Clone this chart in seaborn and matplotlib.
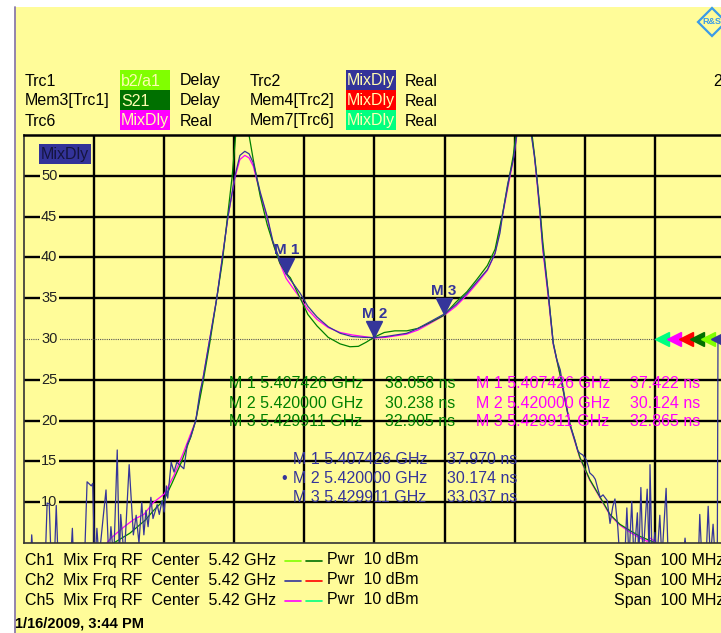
import matplotlib
matplotlib.use("Agg")
import pandas as pd
import matplotlib.pyplot as plt
import seaborn as sns
from matplotlib.patches import Rectangle
from matplotlib.lines import Line2D
from matplotlib.transforms import offset_copy, blended_transform_factory

# ==========================
# Trace data (frequency in MHz, delay in ns)
# ==========================

navy_freq = [5370.0, 5370.9, 5371.1, 5371.4, 5373.0, 5373.3, 5373.6, 5373.9, 5374.3, 5374.6,
             5374.9, 5376.6, 5376.9, 5377.1, 5378.6, 5379.0, 5379.6, 5379.8, 5380.1, 5380.4,
             5380.7, 5381.3, 5381.7, 5382.1, 5382.4, 5382.8, 5383.3, 5383.6, 5383.8, 5384.3,
             5385.0, 5385.6, 5386.0, 5386.4, 5386.8, 5387.1, 5387.4, 5387.7, 5388.1, 5388.4,
             5389.0, 5389.3, 5389.7, 5390.0, 5390.3, 5390.5, 5391.0, 5391.4, 5391.8, 5392.3,
             5392.8, 5393.3, 5393.8, 5394.5, 5395.1, 5395.5, 5396.1, 5396.5, 5397.1, 5397.5,
             5398.3, 5399.1, 5400.1, 5400.8, 5401.5, 5402.1, 5402.7, 5403.7, 5404.7, 5405.5,
             5406.5, 5407.4, 5408.4, 5409.4, 5410.5, 5411.8, 5413.4, 5415.1, 5416.8, 5418.5,
             5420.0, 5421.6, 5423.1, 5424.6, 5426.2, 5427.9, 5429.9, 5431.6, 5433.2, 5434.6,
             5436.1, 5437.2, 5437.9, 5438.3, 5439.0, 5439.8, 5440.3, 5440.8, 5441.5, 5442.2,
             5442.8, 5443.2, 5443.6, 5444.0, 5444.8, 5445.5, 5446.0, 5446.5, 5447.2, 5447.9,
             5448.6, 5449.0, 5449.3, 5449.7, 5450.2, 5450.5, 5450.7, 5451.2, 5451.5, 5451.9,
             5452.2, 5452.6, 5453.2, 5453.6, 5454.0, 5454.3, 5454.7, 5455.0, 5455.7, 5456.0,
             5456.3, 5456.7, 5457.0, 5457.5, 5457.7, 5458.0, 5458.3, 5458.9, 5459.2, 5459.3,
             5459.6, 5460.0, 5460.3, 5460.7, 5461.0, 5461.6, 5461.9, 5464.0, 5464.3, 5464.6,
             5466.2, 5466.4, 5466.7, 5467.3, 5467.6, 5467.9, 5468.3, 5468.6, 5468.9, 5469.0,
             5470.0]
navy_vals = [2, 2, 6.0, 2, 2, 9.9, 9.8, 2, 2, 9.6,
             2, 2, 6.8, 2, 2, 12.5, 12.0, 12.3, 2, 6.8,
             3, 8.2, 11.5, 3, 7.0, 3, 16.4, 3, 8.5, 3,
             14.6, 6, 8.4, 5, 10.0, 6, 9.0, 7, 10.6, 8,
             9.7, 8.5, 10.2, 8.8, 12.0, 10.5, 14.9, 13.7, 14.9, 14.5,
             14.1, 17.1, 18.0, 20.0, 23.5, 25.0, 28.0, 30.0, 33.0, 35.0,
             40.0, 45.0, 50.0, 52.5, 53.0, 52.7, 51.6, 48.0, 45.0, 42.0,
             39.7, 37.97, 36.8, 35.6, 34.0, 32.7, 31.5, 30.7, 30.3, 30.2,
             30.17, 30.3, 30.5, 30.7, 31.3, 32.1, 33.04, 34.2, 35.6, 37.0,
             38.5, 40.5, 43.0, 45.4, 49.0, 52.0, 55.0, 57.0, 58.0, 56.0,
             52.5, 49.5, 45.5, 41.3, 35.5, 29.5, 27.5, 26.2, 22.5, 19.5,
             17.6, 16.3, 16.0, 15.8, 15.2, 14.4, 13.6, 13.2, 12.8, 11.5,
             10.6, 10.9, 10.2, 7.4, 9.5, 10.4, 7.0, 3, 3, 9.3,
             3, 10.1, 3, 8.7, 3, 11.8, 3, 11.6, 3, 14.6,
             3, 6.3, 3, 8.4, 3, 11.7, 3, 3, 5.6, 3,
             3, 8.5, 3, 3, 9.5, 3, 7.3, 3, 3, 30,
             30]

green_freq = [5370.0, 5378.0, 5382.8, 5385.1, 5387.3, 5388.5, 5390.0, 5391.1, 5392.4, 5393.7,
              5394.5, 5395.5, 5396.5, 5397.5, 5398.3, 5399.1, 5399.7, 5400.2, 5400.8, 5401.5,
              5402.1, 5402.7, 5403.7, 5404.7, 5405.8, 5406.5, 5407.4, 5408.0, 5409.4, 5410.5,
              5411.8, 5413.4, 5415.1, 5416.5, 5417.7, 5418.8, 5420.0, 5421.4, 5422.9, 5424.6,
              5426.2, 5427.9, 5429.9, 5431.6, 5433.2, 5434.6, 5436.1, 5437.2, 5438.3, 5439.8,
              5440.3, 5441.5, 5442.2, 5442.9, 5443.6, 5444.0, 5444.8, 5445.5, 5446.5, 5447.9,
              5449.3, 5450.7, 5452.2, 5453.6, 5455.0, 5456.5, 5457.9, 5459.3, 5460.0, 5461.4,
              5470.0]
green_vals = [2, 3.5, 5.0, 6.2, 7.8, 9.0, 10.3, 12.3, 14.8, 17.8,
              20.0, 24.5, 29.5, 35.0, 39.5, 45.5, 50.0, 55.0, 58.0, 59.0,
              55.0, 52.0, 47.5, 44.0, 41.0, 39.3, 38.06, 37.5, 35.0, 33.0,
              31.6, 30.2, 29.4, 29.05, 29.1, 29.6, 30.24, 30.8, 31.0, 31.0,
              31.3, 32.0, 32.9, 34.5, 35.8, 37.3, 39.0, 41.0, 45.5, 52.5,
              56.0, 59.0, 57.0, 52.0, 46.0, 42.0, 35.5, 29.5, 25.5, 19.5,
              15.5, 12.8, 10.6, 8.5, 7.3, 6.5, 5.8, 5.3, 5.0, 4.5,
              3.0]

magenta_freq = [5370.0, 5379.9, 5382.4, 5384.3, 5385.7, 5387.1, 5388.5, 5390.0, 5391.4, 5392.8,
                5394.5, 5395.5, 5396.5, 5397.5, 5398.3, 5399.1, 5400.1, 5400.8, 5401.5, 5402.1,
                5402.7, 5403.7, 5404.7, 5405.5, 5406.5, 5407.4, 5408.4, 5409.4, 5410.5, 5411.8,
                5413.4, 5415.1, 5416.8, 5418.5, 5420.0, 5421.6, 5423.1, 5424.6, 5426.2, 5427.9,
                5429.9, 5431.6, 5433.2, 5434.6, 5436.1, 5437.2, 5438.3, 5439.8, 5440.3, 5441.5,
                5442.2, 5442.8, 5443.6, 5444.0, 5444.8, 5445.5, 5446.5, 5447.9, 5449.3, 5450.7,
                5452.2, 5453.6, 5455.0, 5456.5, 5457.9, 5458.9, 5459.3, 5460.0, 5461.0, 5470.0]
magenta_vals = [2, 3, 5.6, 7.0, 7.9, 8.5, 10.0, 11.0, 13.3, 16.2,
                20.0, 25.0, 30.0, 35.0, 40.0, 45.0, 49.8, 52.0, 52.5, 52.2,
                51.2, 47.8, 44.8, 41.8, 39.3, 37.42, 36.2, 35.0, 33.6, 32.4,
                31.4, 30.8, 30.5, 30.3, 30.12, 30.2, 30.4, 30.6, 31.1, 31.9,
                32.87, 34.0, 35.4, 36.8, 38.4, 40.5, 45.3, 52.0, 55.0, 58.0,
                56.5, 52.5, 45.5, 41.0, 35.0, 29.3, 25.5, 19.3, 15.4, 12.7,
                10.5, 8.4, 7.2, 6.3, 5.6, 5.2, 5.6, 5.2, 4.0, 3.0]

# Markers
marker_names = ["M 1", "M 2", "M 3"]
marker_freq_mhz = [5407.426, 5420.000, 5429.911]
marker_freq_txt = ["5.407426 GHz", "5.420000 GHz", "5.429911 GHz"]
green_marker_vals = [38.058, 30.238, 32.905]
magenta_marker_vals = [37.422, 30.124, 32.865]
navy_marker_vals = [37.970, 30.174, 33.037]

y_tick_labels = [10, 15, 20, 25, 30, 35, 40, 45, 50]
ref_level = 30

# ==========================
# Style
# ==========================

BG = "#fffc99"
NAVY = "#35359a"
GREEN = "#008000"
MAGENTA = "#ff00ff"

sns.set_theme(style="white")
plt.rcParams["font.family"] = ["Liberation Sans", "DejaVu Sans"]

W, H = 721, 633
fig = plt.figure(figsize=(W / 100, H / 100), dpi=100)
fig.patch.set_facecolor("white")


def fx(x):
    return x / W


def fy(y):
    return 1 - y / H


def ftext(x, y, s, **kw):
    kw.setdefault("fontsize", 11.5)
    kw.setdefault("va", "center")
    fig.text(fx(x), fy(y), s, **kw)


def fbox(x0, y0, w, h, color):
    fig.patches.append(Rectangle((fx(x0), fy(y0 + h)), w / W, h / H,
                                 transform=fig.transFigure, facecolor=color,
                                 edgecolor="none", zorder=1))


# background panel with purple left border
fig.patches.append(Rectangle((fx(15), 0), 1, fy(7), transform=fig.transFigure,
                             facecolor=BG, edgecolor="none", zorder=-10))
fig.add_artist(Line2D([fx(14.5), fx(14.5)], [0, fy(7)], transform=fig.transFigure,
                      color="#8a7aaa", lw=1.3))

# ==========================
# Plot area
# ==========================

ax = fig.add_axes([fx(24), fy(543), 701 / W, 408 / H])
ax.set_facecolor(BG)

df = pd.concat([
    pd.DataFrame({"freq": magenta_freq, "value": magenta_vals, "trace": "Trc6"}),
    pd.DataFrame({"freq": green_freq, "value": green_vals, "trace": "Mem3"}),
    pd.DataFrame({"freq": navy_freq, "value": navy_vals, "trace": "Trc2"}),
])
sns.lineplot(data=df, x="freq", y="value", hue="trace",
             hue_order=["Trc6", "Mem3", "Trc2"],
             palette={"Trc6": MAGENTA, "Mem3": GREEN, "Trc2": NAVY},
             estimator=None, sort=False, lw=0.9, legend=False, ax=ax)

ax.set_xlim(5370, 5470)
ax.set_ylim(5, 55)
ax.set_xticks([])
ax.set_yticks([])
ax.set_xlabel("")
ax.set_ylabel("")

for f in range(5380, 5470, 10):
    ax.axvline(f, color="black", lw=1.7, zorder=1)
for v in y_tick_labels:
    if v == ref_level:
        ax.axhline(v, color="#555555", lw=0.8, ls=(0, (1, 1)), zorder=1)
    else:
        ax.axhline(v, color="black", lw=1.7, zorder=1)

for side in ["left", "bottom"]:
    ax.spines[side].set_color("#333333")
    ax.spines[side].set_linewidth(1.2)
ax.spines["top"].set_color("black")
ax.spines["top"].set_linewidth(1.8)
ax.spines["right"].set_visible(False)

ymix = blended_transform_factory(ax.transAxes, ax.transData)
for v in y_tick_labels:
    ax.text(0.036, v, str(v), transform=ymix, ha="center", va="center",
            fontsize=10.5, color="#222222", zorder=1.5,
            bbox=dict(facecolor=BG, edgecolor="none", pad=1.0))

# reference level arrows
ref_x = [0.910, 0.927, 0.944, 0.960, 0.976, 0.990]
ref_colors = ["#00ff80", MAGENTA, "#ff0000", "#007000", "#80ff00", NAVY]
for rx, rc in zip(ref_x, ref_colors):
    ax.plot(rx, ref_level, marker="<", ms=10, color=rc, transform=ymix,
            clip_on=False, zorder=6)

# marker triangles (tip on the trace)
tri = offset_copy(ax.transData, fig=fig, y=6, units="points")
ax.plot(marker_freq_mhz, navy_marker_vals, "v", ms=12, color=NAVY,
        transform=tri, zorder=6, ls="none")
for name, f, v in zip(marker_names, marker_freq_mhz, navy_marker_vals):
    ax.annotate(name, (f, v), xytext=(0, 17), textcoords="offset points",
                ha="center", va="center", fontsize=11, fontweight="bold",
                color=NAVY, zorder=6)

# marker readouts
for i in range(3):
    ftext(229, 384 + 19 * i, f"{marker_names[i]} {marker_freq_txt[i]}", color=GREEN)
    ftext(385, 384 + 19 * i, f"{green_marker_vals[i]:.3f} ns", color=GREEN)
    ftext(476, 384 + 19 * i, f"{marker_names[i]} {marker_freq_txt[i]}", color=MAGENTA)
    ftext(630, 384 + 19 * i, f"{magenta_marker_vals[i]:.3f} ns", color=MAGENTA)
    ftext(293, 460 + 18.5 * i, f"{marker_names[i]} {marker_freq_txt[i]}", color=NAVY)
    ftext(447, 460 + 18.5 * i, f"{navy_marker_vals[i]:.3f} ns", color=NAVY)
ftext(281, 478.5, "\u2022", color=NAVY)

# MixDly label inside plot
ftext(41, 154, "MixDly", color="#151540", fontsize=11.5,
      bbox=dict(facecolor="#333399", edgecolor="none", pad=1.5))

# ==========================
# Header
# ==========================

rows = [81, 101, 121]
left_names = ["Trc1", "Mem3[Trc1]", "Trc6"]
left_tags = ["b2/a1", "S21", "MixDly"]
left_tag_colors = ["#80ff00", "#007000", "#ff00ff"]
left_formats = ["Delay", "Delay", "Real"]
right_names = ["Trc2", "Mem4[Trc2]", "Mem7[Trc6]"]
right_tag_colors = ["#333399", "#ff0000", "#00ff80"]

for i, y in enumerate(rows):
    ftext(25, y, left_names[i], color="black")
    fbox(120, y - 11, 50, 20, left_tag_colors[i])
    ftext(121, y, left_tags[i], color="#fffcb0", zorder=2)
    ftext(180, y, left_formats[i], color="black")
    ftext(250, y, right_names[i], color="black")
    fbox(346, y - 11, 50, 20, right_tag_colors[i])
    ftext(347, y, "MixDly", color="#fffcb0", zorder=2)
    ftext(405, y, "Real", color="black")
ftext(713, 81, "2", color="black")

# R&S logo
fig.add_artist(Line2D([fx(712)], [fy(22)], transform=fig.transFigure, marker="D",
                      ms=14, mfc="none", mec="#3b9be8", mew=1.6))
ftext(712, 21, "R&S", color="#3b9be8", fontsize=6.5, fontweight="bold", ha="center")

# ==========================
# Footer
# ==========================

foot_rows = [560, 580, 600]
ch_names = ["Ch1", "Ch2", "Ch5"]
dash_colors = [("#80ff00", "#007000"), ("#333399", "#ff0000"), ("#ff00ff", "#00ff80")]
for i, y in enumerate(foot_rows):
    ftext(25, y, f"{ch_names[i]}  Mix Frq RF  Center  5.42 GHz", color="black")
    fig.add_artist(Line2D([fx(285), fx(301)], [fy(y + 1), fy(y + 1)],
                          transform=fig.transFigure, color=dash_colors[i][0], lw=1.2))
    fig.add_artist(Line2D([fx(306), fx(322)], [fy(y + 1), fy(y + 1)],
                          transform=fig.transFigure, color=dash_colors[i][1], lw=1.2))
    ftext(327, y, "Pwr  10 dBm", color="black")
    ftext(614, y, "Span  100 MHz", color="black")

ftext(15, 623, "1/16/2009, 3:44 PM", color="black", fontsize=10.5, fontweight="bold")

fig.savefig("out.png", dpi=100, facecolor=fig.get_facecolor())
